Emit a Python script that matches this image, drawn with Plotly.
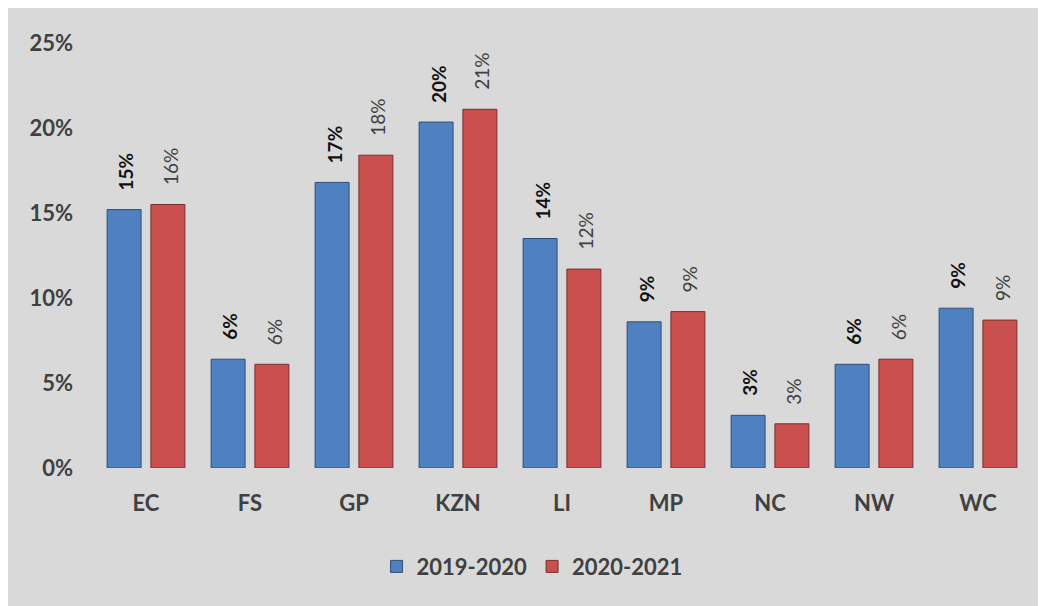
import plotly.graph_objects as go

categories = ["EC", "FS", "GP", "KZN", "LI", "MP", "NC", "NW", "WC"]
series_names = ["2019-2020", "2020-2021"]
values_2019_2020 = [0.152, 0.064, 0.168, 0.2035, 0.135, 0.086, 0.031, 0.061, 0.094]
values_2020_2021 = [0.155, 0.061, 0.184, 0.211, 0.117, 0.092, 0.026, 0.064, 0.087]
y_ticks = [0, 0.05, 0.10, 0.15, 0.20, 0.25]

BG = "#d9d9d9"
FONT = "Lato"

fig = go.Figure()
fig.add_trace(go.Bar(
    name=series_names[0], x=categories, y=values_2019_2020,
    marker=dict(color="#4f81c0", line=dict(color="#2f4f78", width=1)),
))
fig.add_trace(go.Bar(
    name=series_names[1], x=categories, y=values_2020_2021,
    marker=dict(color="#c9504e", line=dict(color="#7a2f2d", width=1)),
))

annotations = []
for vals, shift, bold, col in [(values_2019_2020, -20, True, "#111111"),
                               (values_2020_2021, 24, False, "#404040")]:
    for c, v in zip(categories, vals):
        txt = f"{round(v * 100):.0f}%"
        annotations.append(dict(
            x=c, y=v, xref="x", yref="y", text=f"<b>{txt}</b>" if bold else txt,
            showarrow=False, textangle=-90, xanchor="center", yanchor="bottom",
            xshift=shift, yshift=17,
            font=dict(family=FONT, size=19, color=col),
        ))

fig.update_layout(
    width=1046, height=606,
    paper_bgcolor=BG, plot_bgcolor=BG,
    margin=dict(l=86, r=24, t=35, b=146),
    barmode="group", bargap=0.158, bargroupgap=0.224,
    font=dict(family=FONT, color="#404040"),
    xaxis=dict(showgrid=False, showline=False, zeroline=False, ticks="",
               tickfont=dict(family=FONT, size=22, color="#404040", weight="bold"),
               ticklabelstandoff=20),
    yaxis=dict(range=[0, 0.25], tickvals=y_ticks, tickformat=".0%",
               showgrid=False, showline=False, zeroline=False, ticks="",
               tickfont=dict(family=FONT, size=22, color="#404040", weight="bold"),
               ticklabelstandoff=20),
    legend=dict(orientation="h", x=0.468, xanchor="center", y=-0.232, yanchor="middle",
                font=dict(family=FONT, size=22, color="#404040", weight="bold"),
                bgcolor="rgba(0,0,0,0)", itemwidth=30, traceorder="normal"),
    annotations=annotations,
    showlegend=True,
)

fig.write_html("out.html")
